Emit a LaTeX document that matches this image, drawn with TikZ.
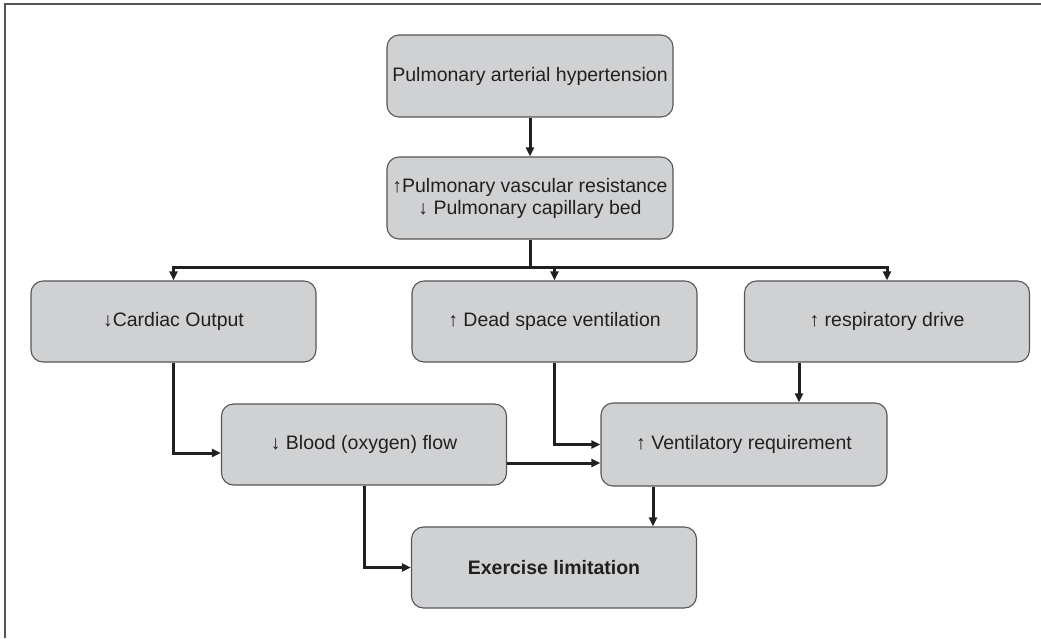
\documentclass[tikz,border=0pt]{standalone}
\usepackage{fontspec}
\setmainfont{Liberation Sans}
\usetikzlibrary{arrows.meta,calc}
\definecolor{boxfill}{RGB}{208,209,211}
\definecolor{boxline}{RGB}{85,85,87}
\definecolor{ink}{RGB}{35,31,32}
\tikzset{
  fbox/.style={draw=boxline, fill=boxfill, line width=1.1pt, rounded corners=12pt,
    minimum width=285pt, minimum height=81pt, inner sep=0pt, align=center,
    text=ink, font=\fontsize{19.5}{22}\selectfont},
  conn/.style={draw=ink, line width=3pt},
  arr/.style={conn, -{Triangle[length=9pt,width=8pt]}}
}
\begin{document}
\begin{tikzpicture}[x=1pt,y=-1pt]
\useasboundingbox (0,0) rectangle (1041,638);
\draw[boxline, line width=1.3pt] (5,638) -- (5,4) -- (1041,4);

\node[fbox, minimum width=286pt, minimum height=82pt] (pah) at (530,76) {Pulmonary arterial hypertension};
\node[fbox, minimum width=286pt, minimum height=82pt] (pvr) at (530,198) {↑Pulmonary vascular resistance\\↓ Pulmonary capillary bed};
\node[fbox] (co) at (173.5,321.5) {↓Cardiac Output};
\node[fbox] (dsv) at (554.5,321.5) {↑ Dead space ventilation};
\node[fbox] (rd) at (887,321.5) {↑ respiratory drive};
\node[fbox] (bf) at (364,444.5) {↓ Blood (oxygen) flow};
\node[fbox, minimum width=286pt, minimum height=83pt] (vr) at (744,444.5) {↑ Ventilatory requirement};
\node[fbox, font=\fontsize{19.5}{22}\selectfont\bfseries] (el) at (554,567.5) {Exercise limitation};

\coordinate (j) at (530,267);
\coordinate (ya) at (0,453);
\coordinate (yb) at (0,463);
\coordinate (xr) at (799,0);
\coordinate (xv) at (653,0);

\draw[arr] (pah) -- (pvr);
\draw[conn] (pvr.south) -- (j);
\draw[arr] (j) -| (co.north);
\draw[arr] (j) -| (dsv.north);
\draw[arr] (j) -| (rd.north);
\draw[arr] (co.south) |- (bf.west |- ya);
\draw[arr] (dsv.south) |- (vr.west);
\draw[arr] (bf.east |- yb) -- (vr.west |- yb);
\draw[arr] (rd.south -| xr) -- (vr.north -| xr);
\draw[arr] (vr.south -| xv) -- (el.north -| xv);
\draw[arr] (bf.south) |- (el.west);
\end{tikzpicture}
\end{document}
